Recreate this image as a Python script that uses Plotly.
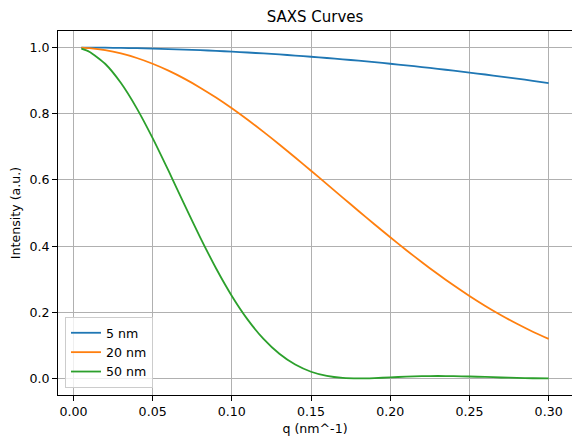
import plotly.graph_objects as go

q = [0.005, 0.01, 0.02, 0.03, 0.04, 0.05, 0.06, 0.07, 0.08, 0.09, 0.10,
     0.11, 0.12, 0.13, 0.14, 0.15, 0.16, 0.17, 0.18, 0.19, 0.20,
     0.21, 0.22, 0.23, 0.24, 0.25, 0.26, 0.27, 0.28, 0.29, 0.30]

i_5nm = [1.0000, 0.99988, 0.9995, 0.99888, 0.9980, 0.99688, 0.99551, 0.99389, 0.99203, 0.98992, 0.98757,
         0.98497, 0.98214, 0.97906, 0.97576, 0.97221, 0.96844, 0.96443, 0.96020, 0.95574, 0.95106,
         0.94616, 0.94105, 0.93572, 0.93018, 0.92444, 0.91850, 0.91236, 0.90602, 0.89949, 0.89280]

i_20nm = [0.9995, 0.9980, 0.99203, 0.98214, 0.96844, 0.95106, 0.93018, 0.90602, 0.87880, 0.84881, 0.81632,
          0.78166, 0.74513, 0.70709, 0.66787, 0.62781, 0.58726, 0.54654, 0.50598, 0.46588, 0.42654,
          0.38820, 0.35113, 0.31553, 0.28158, 0.24946, 0.21927, 0.19113, 0.16510, 0.14122, 0.11950]

i_50nm = [0.99688, 0.98757, 0.95106, 0.89277, 0.81632, 0.72628, 0.62781, 0.52622, 0.42654, 0.33313, 0.24946,
          0.17785, 0.11950, 0.07447, 0.04194, 0.02032, 0.00758, 0.00153, 0.000001, 0.00109, 0.00326,
          0.00541, 0.00689, 0.00742, 0.00704, 0.00595, 0.00449, 0.00296, 0.00163, 0.00067, 0.00014]

series = [("5 nm", i_5nm, "#1f77b4"), ("20 nm", i_20nm, "#ff7f0e"), ("50 nm", i_50nm, "#2ca02c")]

fig = go.Figure()
for name, vals, col in series:
    fig.add_trace(go.Scatter(x=q, y=vals, mode="lines", name=name,
                             line=dict(color=col, width=1.8, shape="spline", smoothing=0.6)))

font = "DejaVu Sans, sans-serif"
fs = 12.6
axis_common = dict(showline=True, linecolor="black", linewidth=1, mirror=True,
                   ticks="outside", ticklen=5, tickwidth=1, tickcolor="black",
                   showgrid=True, gridcolor="#b0b0b0", gridwidth=0.8, zeroline=False,
                   automargin=False,
                   tickfont=dict(family=font, size=fs, color="black"))

fig.update_layout(
    width=572, height=437,
    margin=dict(l=50, r=8, t=23, b=50),
    paper_bgcolor="white", plot_bgcolor="white",
    font=dict(family=font, size=fs, color="black"),
    title=dict(text="SAXS Curves", x=0.5367, xanchor="center", y=0.979, yanchor="middle",
               font=dict(family=font, size=15, color="black"), automargin=False),
    xaxis=dict(range=[-0.00975, 0.31475], tickvals=[0, 0.05, 0.10, 0.15, 0.20, 0.25, 0.30],
               tickformat=".2f",
               title=dict(text="q (nm^-1)", font=dict(family=font, size=fs), standoff=6),
               **axis_common),
    yaxis=dict(range=[-0.05, 1.05], tickvals=[0, 0.2, 0.4, 0.6, 0.8, 1.0], tickformat=".1f",
               title=dict(text="Intensity (a.u.)", font=dict(family=font, size=fs), standoff=7),
               **axis_common),
    legend=dict(x=0.0136, y=0.019, xanchor="left", yanchor="bottom",
                bordercolor="#cccccc", borderwidth=1, bgcolor="rgba(255,255,255,0.8)",
                font=dict(family=font, size=fs), tracegroupgap=0, itemwidth=30),
    showlegend=True,
)

fig.write_html("out.html")
